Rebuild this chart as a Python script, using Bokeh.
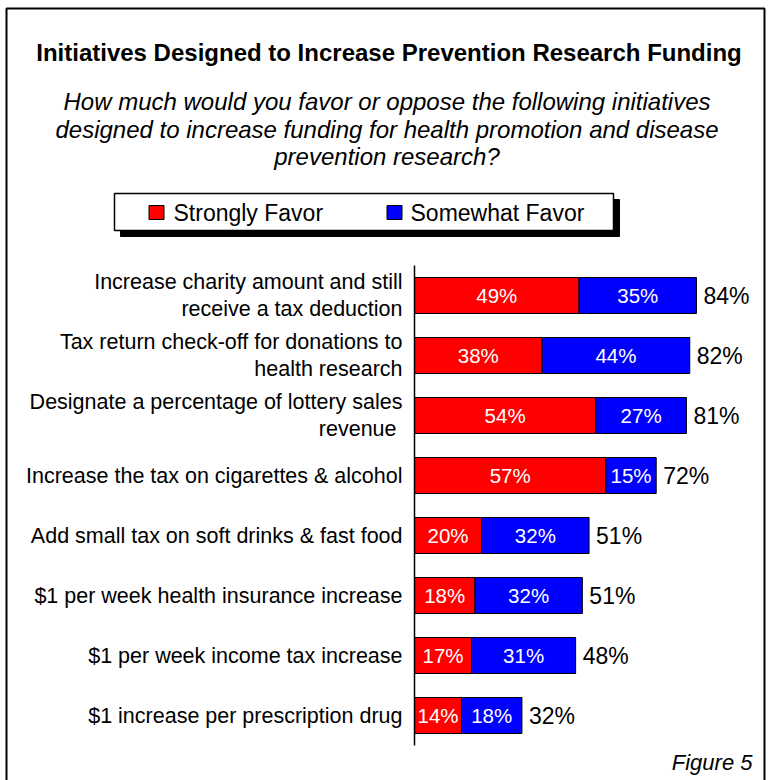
from bokeh.plotting import figure
from bokeh.models import Range1d, ColumnDataSource
from bokeh.core.properties import value
from bokeh.embed import file_html
from bokeh.resources import INLINE

# Survey results (percent of respondents)
initiatives = [
    "Increase charity amount and still\nreceive a tax deduction",
    "Tax return check-off for donations to\nhealth research",
    "Designate a percentage of lottery sales\nrevenue ",
    "Increase the tax on cigarettes & alcohol",
    "Add small tax on soft drinks & fast food",
    "$1 per week health insurance increase",
    "$1 per week income tax increase",
    "$1 increase per prescription drug",
]
strongly_favor = [49, 38, 54, 57, 20, 18, 17, 14]
somewhat_favor = [35, 44, 27, 15, 32, 32, 31, 18]
total_favor = [84, 82, 81, 72, 51, 51, 48, 32]

title_text = "Initiatives Designed to Increase Prevention Research Funding"
subtitle_lines = [
    "How much would you favor or oppose the following initiatives",
    "designed to increase funding for health promotion and disease",
    "prevention research?",
]
series_names = ["Strongly Favor", "Somewhat Favor"]
series_colors = ["#FF0000", "#0000FF"]

FONT = value("Liberation Sans")
W, H = 769, 780

# Page canvas in pixel units; the bars live on their own percent / row scales
p = figure(width=W, height=H, x_range=Range1d(0, W), y_range=Range1d(H, 0),
           output_backend="svg", toolbar_location=None,
           x_axis_location=None, y_axis_location=None,
           min_border=0, min_border_left=0, min_border_right=0,
           min_border_top=0, min_border_bottom=0)
p.outline_line_color = None
p.xgrid.visible = False
p.ygrid.visible = False
p.background_fill_color = "white"
p.border_fill_color = "white"

PX_PER_PCT = 3.357
ZERO_PX = 414
ROW_PX = 60
FIRST_ROW_PX = 295
p.extra_x_ranges = {"pct": Range1d(-ZERO_PX / PX_PER_PCT, (W - ZERO_PX) / PX_PER_PCT)}
p.extra_y_ranges = {"row": Range1d((H - FIRST_ROW_PX) / ROW_PX, -FIRST_ROW_PX / ROW_PX)}

# Outer frame
p.quad(left=[6], right=[764], top=[8], bottom=[783], fill_color=None,
       line_color="black", line_width=2)

# Title and question text
p.text(x=[W / 2 + 4], y=[52], text=[title_text], text_font=FONT, text_font_style="bold",
       text_font_size="24px", text_align="center", text_baseline="middle", text_color="black")
p.text(x=[W / 2 + 2] * 3, y=[101, 129, 156], text=subtitle_lines, text_font=FONT,
       text_font_style="italic", text_font_size="24px", text_align="center",
       text_baseline="middle", text_color="black")

# Legend box with drop shadow
p.quad(left=[120], right=[619], top=[199], bottom=[236], fill_color="black", line_color="black")
p.quad(left=[114], right=[613], top=[193], bottom=[230], fill_color="white",
       line_color="black", line_width=1.5)
p.rect(x=[156, 394], y=[212, 212], width=15, height=14, fill_color=series_colors,
       line_color="black", line_width=1)
p.text(x=[173, 410], y=[212, 212], text=series_names, text_font=FONT, text_font_size="23px",
       text_align="left", text_baseline="middle", text_color="black")

# Stacked bars
rows = list(range(len(initiatives)))
src = ColumnDataSource(dict(
    row=rows,
    label=initiatives,
    strong=strongly_favor,
    some=somewhat_favor,
    stack=[a + b for a, b in zip(strongly_favor, somewhat_favor)],
    strong_mid=[a / 2 for a in strongly_favor],
    some_mid=[a + b / 2 for a, b in zip(strongly_favor, somewhat_favor)],
    strong_txt=[f"{a}%" for a in strongly_favor],
    some_txt=[f"{b}%" for b in somewhat_favor],
    total_txt=[f"{t}%" for t in total_favor],
    zero=[0] * len(rows),
))

p.hbar(y="row", left="zero", right="strong", height=0.6, source=src,
       fill_color=series_colors[0], line_color="black", line_width=1,
       x_range_name="pct", y_range_name="row")
p.hbar(y="row", left="strong", right="stack", height=0.6, source=src,
       fill_color=series_colors[1], line_color="black", line_width=1,
       x_range_name="pct", y_range_name="row")

# Category axis line
p.segment(x0=[0], x1=[0], y0=[-0.5], y1=[len(rows) - 0.5], line_color="black",
          line_width=1.5, x_range_name="pct", y_range_name="row")

# Category labels
p.text(x="zero", y="row", text="label", source=src, x_offset=-12,
       text_font=FONT, text_font_size="21.5px", text_align="right",
       text_baseline="middle", text_line_height=1.12, text_color="black",
       x_range_name="pct", y_range_name="row")

# Segment values
p.text(x="strong_mid", y="row", text="strong_txt", source=src, text_font=FONT,
       text_font_size="20.5px", text_align="center", text_baseline="middle",
       text_color="white", x_range_name="pct", y_range_name="row")
p.text(x="some_mid", y="row", text="some_txt", source=src, text_font=FONT,
       text_font_size="20.5px", text_align="center", text_baseline="middle",
       text_color="white", x_range_name="pct", y_range_name="row")

# Totals
p.text(x="stack", y="row", text="total_txt", source=src, x_offset=7, text_font=FONT,
       text_font_size="23px", text_align="left", text_baseline="middle",
       text_color="black", x_range_name="pct", y_range_name="row")

# Figure number
p.text(x=[752], y=[762], text=["Figure 5"], text_font=FONT, text_font_style="italic",
       text_font_size="22px", text_align="right", text_baseline="middle", text_color="black")

open("out.html", "w").write(file_html(p, INLINE))
